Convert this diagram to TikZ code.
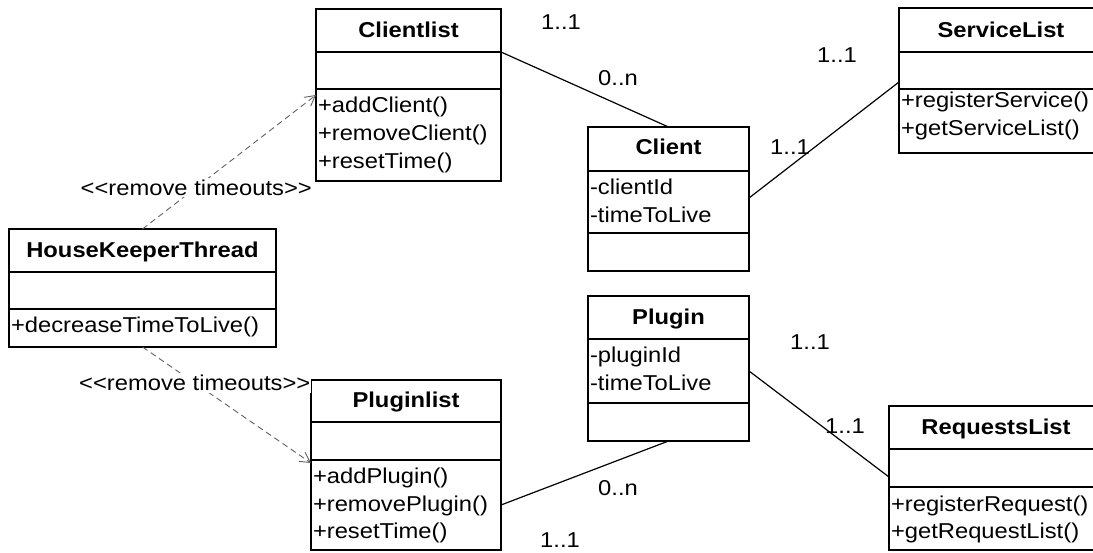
\documentclass[tikz,border=0pt]{standalone}
\usepackage{fontspec}
\setmainfont{Liberation Sans}[FakeStretch=1.105, Ligatures=TeXOff]
\usetikzlibrary{arrows.meta}

\tikzset{
  compart/.style={draw=black, line width=1.9pt, rectangle, inner sep=0pt, outer sep=0pt, fill=white},
  umltext/.style={inner sep=0pt, outer sep=0pt, font=\fontsize{21.5}{25}\selectfont, text=black},
  classtitle/.style={umltext, anchor=base, font=\fontsize{21.5}{25}\selectfont\bfseries},
  member/.style={umltext, anchor=base west},
  mult/.style={umltext, anchor=base},
  assoc/.style={draw=black, line width=1.2pt},
  dep/.style={draw=black!62, line width=0.9pt, dash pattern=on 6pt off 4pt,
    -{Straight Barb[length=10pt,width=11pt,line width=0.9pt]}},
  stereo/.style={umltext, fill=white, inner xsep=1pt, inner ysep=2pt}
}

% class box: name, left, top, width, title height, attribute height, method height
\newcommand{\umlbox}[7]{%
  \node[compart, anchor=north west, minimum width=#4pt, minimum height=#5pt] (#1) at (#2,#3) {};
  \node[compart, anchor=north, minimum width=#4pt, minimum height=#6pt] (#1-a) at (#1.south) {};
  \node[compart, anchor=north, minimum width=#4pt, minimum height=#7pt] (#1-m) at (#1-a.south) {};
}

\begin{document}
\begin{tikzpicture}[x=1pt,y=-1pt]
  \clip (0,0) rectangle (1093,552);
  \fill[white] (0,0) rectangle (1093,552);

  % classes
  \umlbox{clientlist}{316}{9}{185}{43}{37}{92}
  \umlbox{client}{588}{127}{161}{44}{62}{38}
  \umlbox{servicelist}{899}{8}{204}{44}{37}{64}
  \umlbox{hkt}{9}{229}{267}{43}{37}{38}
  \umlbox{pluginlist}{311}{380}{190}{42}{38}{90}
  \umlbox{plugin}{588}{296}{161}{43}{64}{38}
  \umlbox{requestslist}{889}{406}{214}{43}{38}{63}

  % titles
  \node[classtitle] (clientlist-t) at (408.5,37.7) {Clientlist};
  \node[classtitle] (client-t) at (668.5,154.7) {Client};
  \node[classtitle] (servicelist-t) at (1001,37.7) {ServiceList};
  \node[classtitle] (hkt-t) at (142.5,257.7) {HouseKeeperThread};
  \node[classtitle] (pluginlist-t) at (406,407.7) {Pluginlist};
  \node[classtitle] (plugin-t) at (668.5,324.7) {Plugin};
  \node[classtitle] (requestslist-t) at (996,434.7) {RequestsList};

  % members
  \node[member] (clientlist-m1) at (318,112.6) {+addClient()};
  \node[member] (clientlist-m2) at (318,140.6) {+removeClient()};
  \node[member] (clientlist-m3) at (318,168.6) {+resetTime()};

  \node[member] (client-a1) at (590,194.8) {-clientId};
  \node[member] (client-a2) at (590,222.8) {-timeToLive};

  \node[member] (servicelist-m1) at (901,107.3) {+registerService()};
  \node[member] (servicelist-m2) at (901,135.3) {+getServiceList()};

  \node[member] (hkt-m1) at (11,332.6) {+decreaseTimeToLive()};

  \node[member] (pluginlist-m1) at (313,483.6) {+addPlugin()};
  \node[member] (pluginlist-m2) at (313,511.6) {+removePlugin()};
  \node[member] (pluginlist-m3) at (313,538.6) {+resetTime()};

  \node[member] (plugin-a1) at (590,362.8) {-pluginId};
  \node[member] (plugin-a2) at (590,390.8) {-timeToLive};

  \node[member] (requestslist-m1) at (891,511.3) {+registerRequest()};
  \node[member] (requestslist-m2) at (891,538.3) {+getRequestList()};

  % associations
  \draw[assoc] (clientlist.south east) -- (client.north);
  \draw[assoc] ([yshift=4pt]client-a.east) -- ([yshift=7pt]servicelist-a.south west);
  \draw[assoc] (plugin-a.east) -- ([yshift=10pt]requestslist-a.south west);
  \draw[assoc] (pluginlist-m.east) -- (plugin-m.south);

  % dependencies
  \draw[dep] (hkt.north) -- node[stereo, pos=0.31] (dep1-label) {<<remove timeouts>>}
    ([yshift=-6pt]clientlist-m.north west);
  \draw[dep] (hkt-m.south) -- node[stereo, pos=0.31] (dep2-label) {<<remove timeouts>>}
    ([yshift=-3pt]pluginlist-m.north west);

  % multiplicities
  \node[mult] (mult-cl) at (561,29.7) {1..1};
  \node[mult] (mult-c1) at (618,85.7) {0..n};
  \node[mult] (mult-sl) at (837,62.7) {1..1};
  \node[mult] (mult-c2) at (790,154.7) {1..1};
  \node[mult] (mult-p1) at (810,349.7) {1..1};
  \node[mult] (mult-rl) at (845,433.7) {1..1};
  \node[mult] (mult-p2) at (618,495.7) {0..n};
  \node[mult] (mult-pl) at (560,547.7) {1..1};
\end{tikzpicture}
\end{document}
